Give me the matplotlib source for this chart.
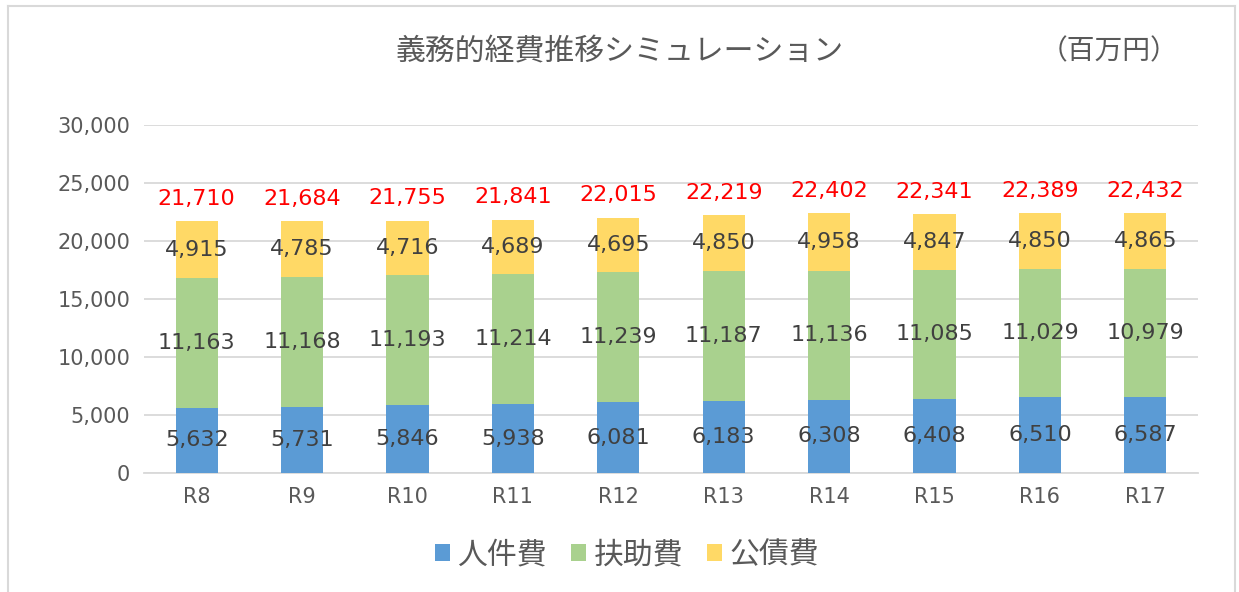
import numpy as np
import matplotlib.pyplot as plt
from matplotlib.patches import Patch
from matplotlib.lines import Line2D

plt.rcParams['font.family'] = ['Noto Sans CJK JP', 'DejaVu Sans']

years = ['R8', 'R9', 'R10', 'R11', 'R12', 'R13', 'R14', 'R15', 'R16', 'R17']
jinken = [5632, 5731, 5846, 5938, 6081, 6183, 6308, 6408, 6510, 6587]
fujo = [11163, 11168, 11193, 11214, 11239, 11187, 11136, 11085, 11029, 10979]
kosai = [4915, 4785, 4716, 4689, 4695, 4850, 4958, 4847, 4850, 4865]
totals = [21710, 21684, 21755, 21841, 22015, 22219, 22402, 22341, 22389, 22432]
series_names = ['人件費', '扶助費', '公債費']

colors = ['#5B9BD5', '#A9D18E', '#FFD966']
txt = '#404040'
tick_c = '#595959'
num_font = ['DejaVu Sans']

fig = plt.figure(figsize=(12.39, 5.92), dpi=100)
ax = fig.add_axes([0.1162, 0.201, 0.8508, 0.588])

x = np.arange(len(years))
w = 0.4
bottom = np.zeros(len(years))
for vals, c, name in zip([jinken, fujo, kosai], colors, series_names):
    vals = np.array(vals)
    ax.bar(x, vals, w, bottom=bottom, color=c, label=name, zorder=3)
    for xi, b, v in zip(x, bottom, vals):
        ax.text(xi, b + v / 2, f'{v:,}', ha='center', va='center',
                fontsize=16, color=txt, zorder=4, family=num_font)
    bottom = bottom + vals

for xi, top, t in zip(x, bottom, totals):
    ax.annotate(f'{t:,}', (xi, top), xytext=(0, 16), textcoords='offset points',
                ha='center', va='center', fontsize=16, color='red',
                family=num_font)

ax.set_xlim(-0.5, len(years) - 0.5)
ax.set_ylim(0, 30000)
ax.set_yticks(np.arange(0, 30001, 5000))
ax.set_yticklabels([f'{v:,}' for v in range(0, 30001, 5000)], family=num_font)
ax.set_xticks(x)
ax.set_xticklabels(years, family=num_font)
ax.grid(axis='y', color='#D9D9D9', linewidth=1.3, zorder=0)
for s in ['top', 'right', 'left']:
    ax.spines[s].set_visible(False)
ax.spines['bottom'].set_color('#D9D9D9')
ax.spines['bottom'].set_linewidth(1.3)
ax.tick_params(axis='both', length=0, colors=tick_c, labelsize=15, pad=10)

fig.text(0.5, 0.913, '義務的経費推移シミュレーション', ha='center', va='center',
         fontsize=21.5, color=tick_c)
fig.text(0.895, 0.913, '（百万円）', ha='center', va='center',
         fontsize=20, color=tick_c)

handles = [Patch(facecolor=c, edgecolor='none') for c in colors]
fig.legend(handles, series_names, loc='center', bbox_to_anchor=(0.506, 0.063),
           ncol=3, frameon=False, fontsize=21.5, handlelength=0.5, handleheight=0.5,
           handletextpad=0.25, columnspacing=0.8, labelcolor=tick_c)

# outer chart frame
frame_c = '#D9D9D9'
fig.add_artist(Line2D([0.0065, 0.0065], [0, 0.99], color=frame_c, lw=1.5))
fig.add_artist(Line2D([0.9965, 0.9965], [0, 0.99], color=frame_c, lw=1.5))
fig.add_artist(Line2D([0.0065, 0.9965], [0.99, 0.99], color=frame_c, lw=1.5))

fig.savefig('out.png', dpi=100)
